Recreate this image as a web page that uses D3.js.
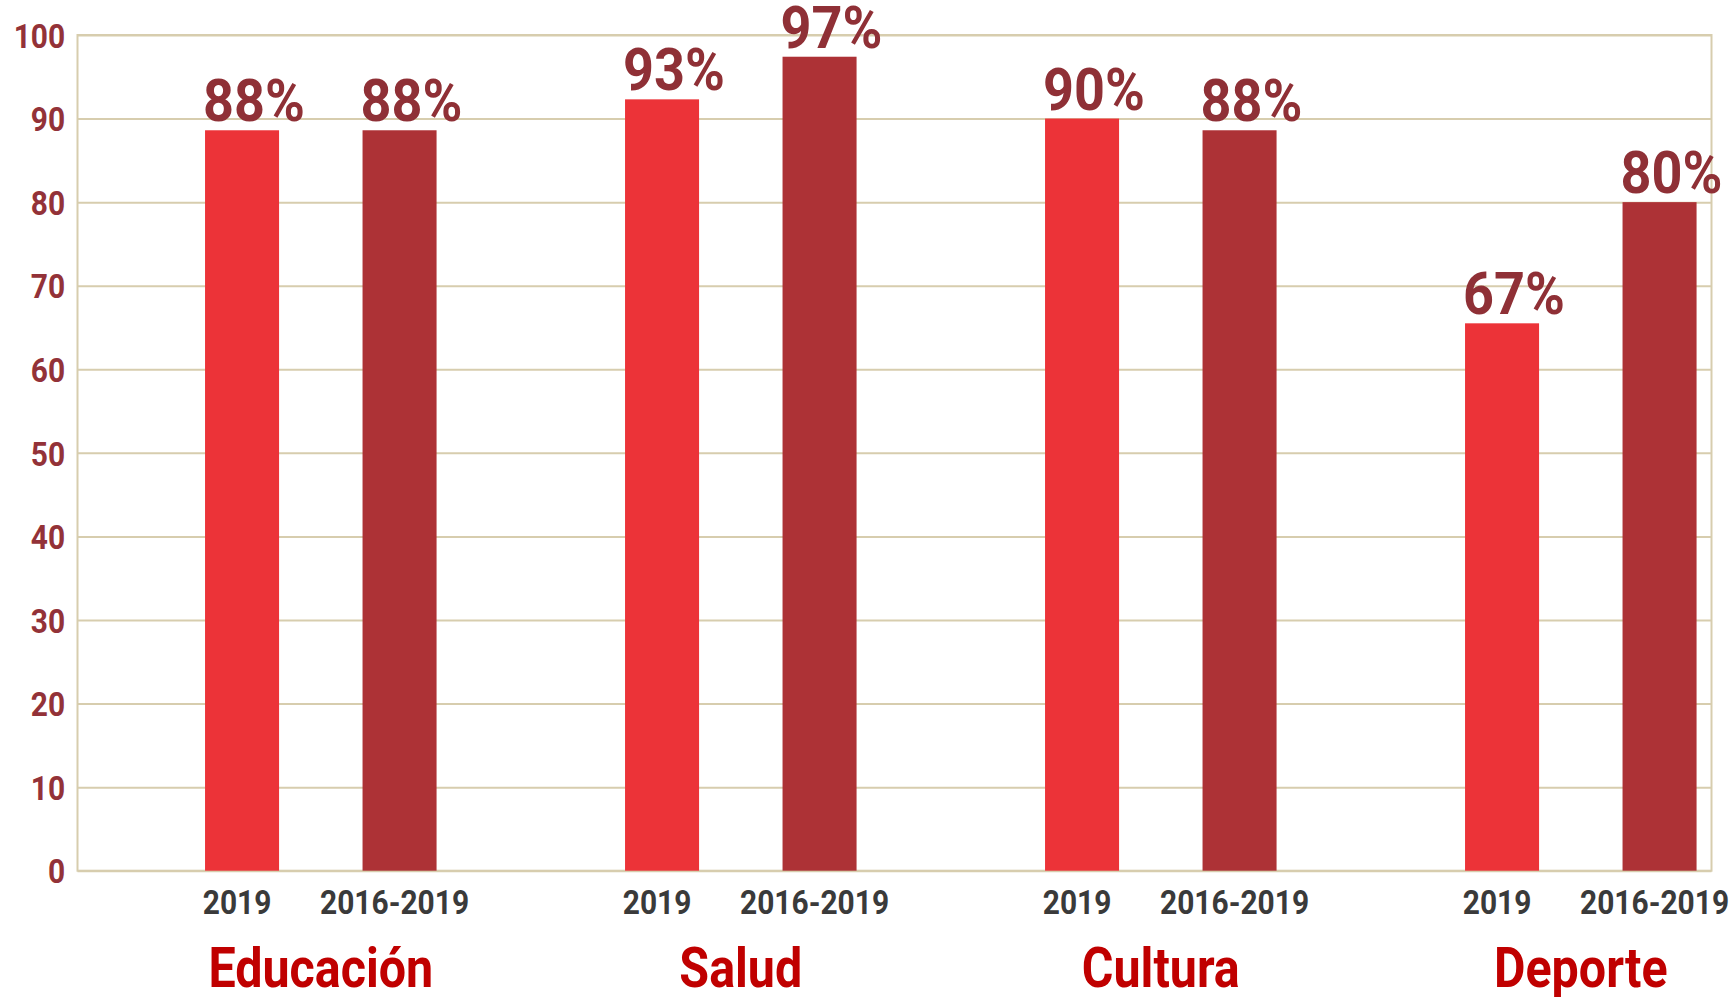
<!DOCTYPE html>
<html>
<head>
<meta charset="utf-8">
<script src="https://cdn.jsdelivr.net/npm/d3@7"></script>
<style>
  html, body { margin: 0; padding: 0; background: #ffffff; }
  svg { display: block; }
  text { font-family: Roboto, "Noto Sans", sans-serif; font-weight: 700; }
</style>
</head>
<body>
<svg id="chart" width="1730" height="997"></svg>
<script>
// ---- data ----
const categories = ["Educación", "Salud", "Cultura", "Deporte"];
const seriesNames = ["2019", "2016-2019"];
const values2019 = [88.6, 92.3, 90.0, 65.5];
const values2016_2019 = [88.6, 97.4, 88.6, 80.0];
const labels2019 = ["88%", "93%", "90%", "67%"];
const labels2016_2019 = ["88%", "97%", "88%", "80%"];
const yTicks = [0, 10, 20, 30, 40, 50, 60, 70, 80, 90, 100];

// ---- layout ----
const W = 1730, H = 997;
const plot = { left: 77.5, right: 1711.5, top: 35, bottom: 870.7 };
const colors = { "2019": "#EC3338", "2016-2019": "#AD3236" };
const gridColor = "#D7CDAE";
const tickColor = "#933238";
const valueLabelColor = "#8F3036";
const xLabelColor = "#3A3A3A";
const catColor = "#C00000";
const squeeze = 0.88;

const series = [
  { name: seriesNames[0], values: values2019, labels: labels2019 },
  { name: seriesNames[1], values: values2016_2019, labels: labels2016_2019 }
];

const svg = d3.select("#chart");

const y = d3.scaleLinear().domain([0, 100]).range([plot.bottom, plot.top]);
const x0 = d3.scaleBand().domain(categories).range([110.8, 1790.8])
  .paddingInner(0.25).paddingOuter(0.125);
const x1 = d3.scaleBand().domain(seriesNames).range([0, x0.bandwidth()])
  .paddingInner(0.53).paddingOuter(0.265);

// grid + y axis
const yAxis = d3.axisLeft(y).tickValues(yTicks)
  .tickSize(-(plot.right - plot.left)).tickPadding(14);
const gy = svg.append("g").attr("transform", `translate(${plot.left},0)`).call(yAxis);
gy.select(".domain").remove();
gy.selectAll(".tick line").attr("stroke", gridColor).attr("stroke-width", 2);
gy.selectAll(".tick text")
  .attr("fill", tickColor)
  .style("font-size", "34px")
  .attr("dy", "0.36em")
  .attr("transform", `scale(${squeeze},1)`);

// plot frame
svg.append("rect")
  .attr("x", plot.left).attr("y", plot.top)
  .attr("width", plot.right - plot.left).attr("height", plot.bottom - plot.top)
  .attr("fill", "none").attr("stroke", gridColor).attr("stroke-width", 2);

// bars
const groups = svg.append("g").selectAll("g")
  .data(categories)
  .join("g")
  .attr("transform", d => `translate(${x0(d)},0)`);

series.forEach(s => {
  groups.append("rect")
    .attr("x", x1(s.name))
    .attr("y", (d, i) => y(s.values[i]))
    .attr("width", x1.bandwidth())
    .attr("height", (d, i) => y(0) - y(s.values[i]))
    .attr("fill", colors[s.name]);

  groups.append("text")
    .attr("transform", (d, i) => `translate(${x1(s.name) - 2},${y(s.values[i]) - 9}) scale(0.9,1)`)
    .attr("text-anchor", "start")
    .attr("fill", valueLabelColor)
    .style("font-size", "60px")
    .text((d, i) => s.labels[i]);

  groups.append("text")
    .attr("transform", `translate(${x1(s.name) + x1.bandwidth() / 2 - 5},914) scale(${squeeze},1)`)
    .attr("text-anchor", "middle")
    .attr("fill", xLabelColor)
    .style("font-size", "34px")
    .text(s.name);
});

// category labels
groups.append("text")
  .attr("transform", `translate(${x0.bandwidth() / 2},987) scale(${squeeze},1)`)
  .attr("text-anchor", "middle")
  .attr("fill", catColor)
  .style("font-size", "55px")
  .text(d => d);
</script>
</body>
</html>
